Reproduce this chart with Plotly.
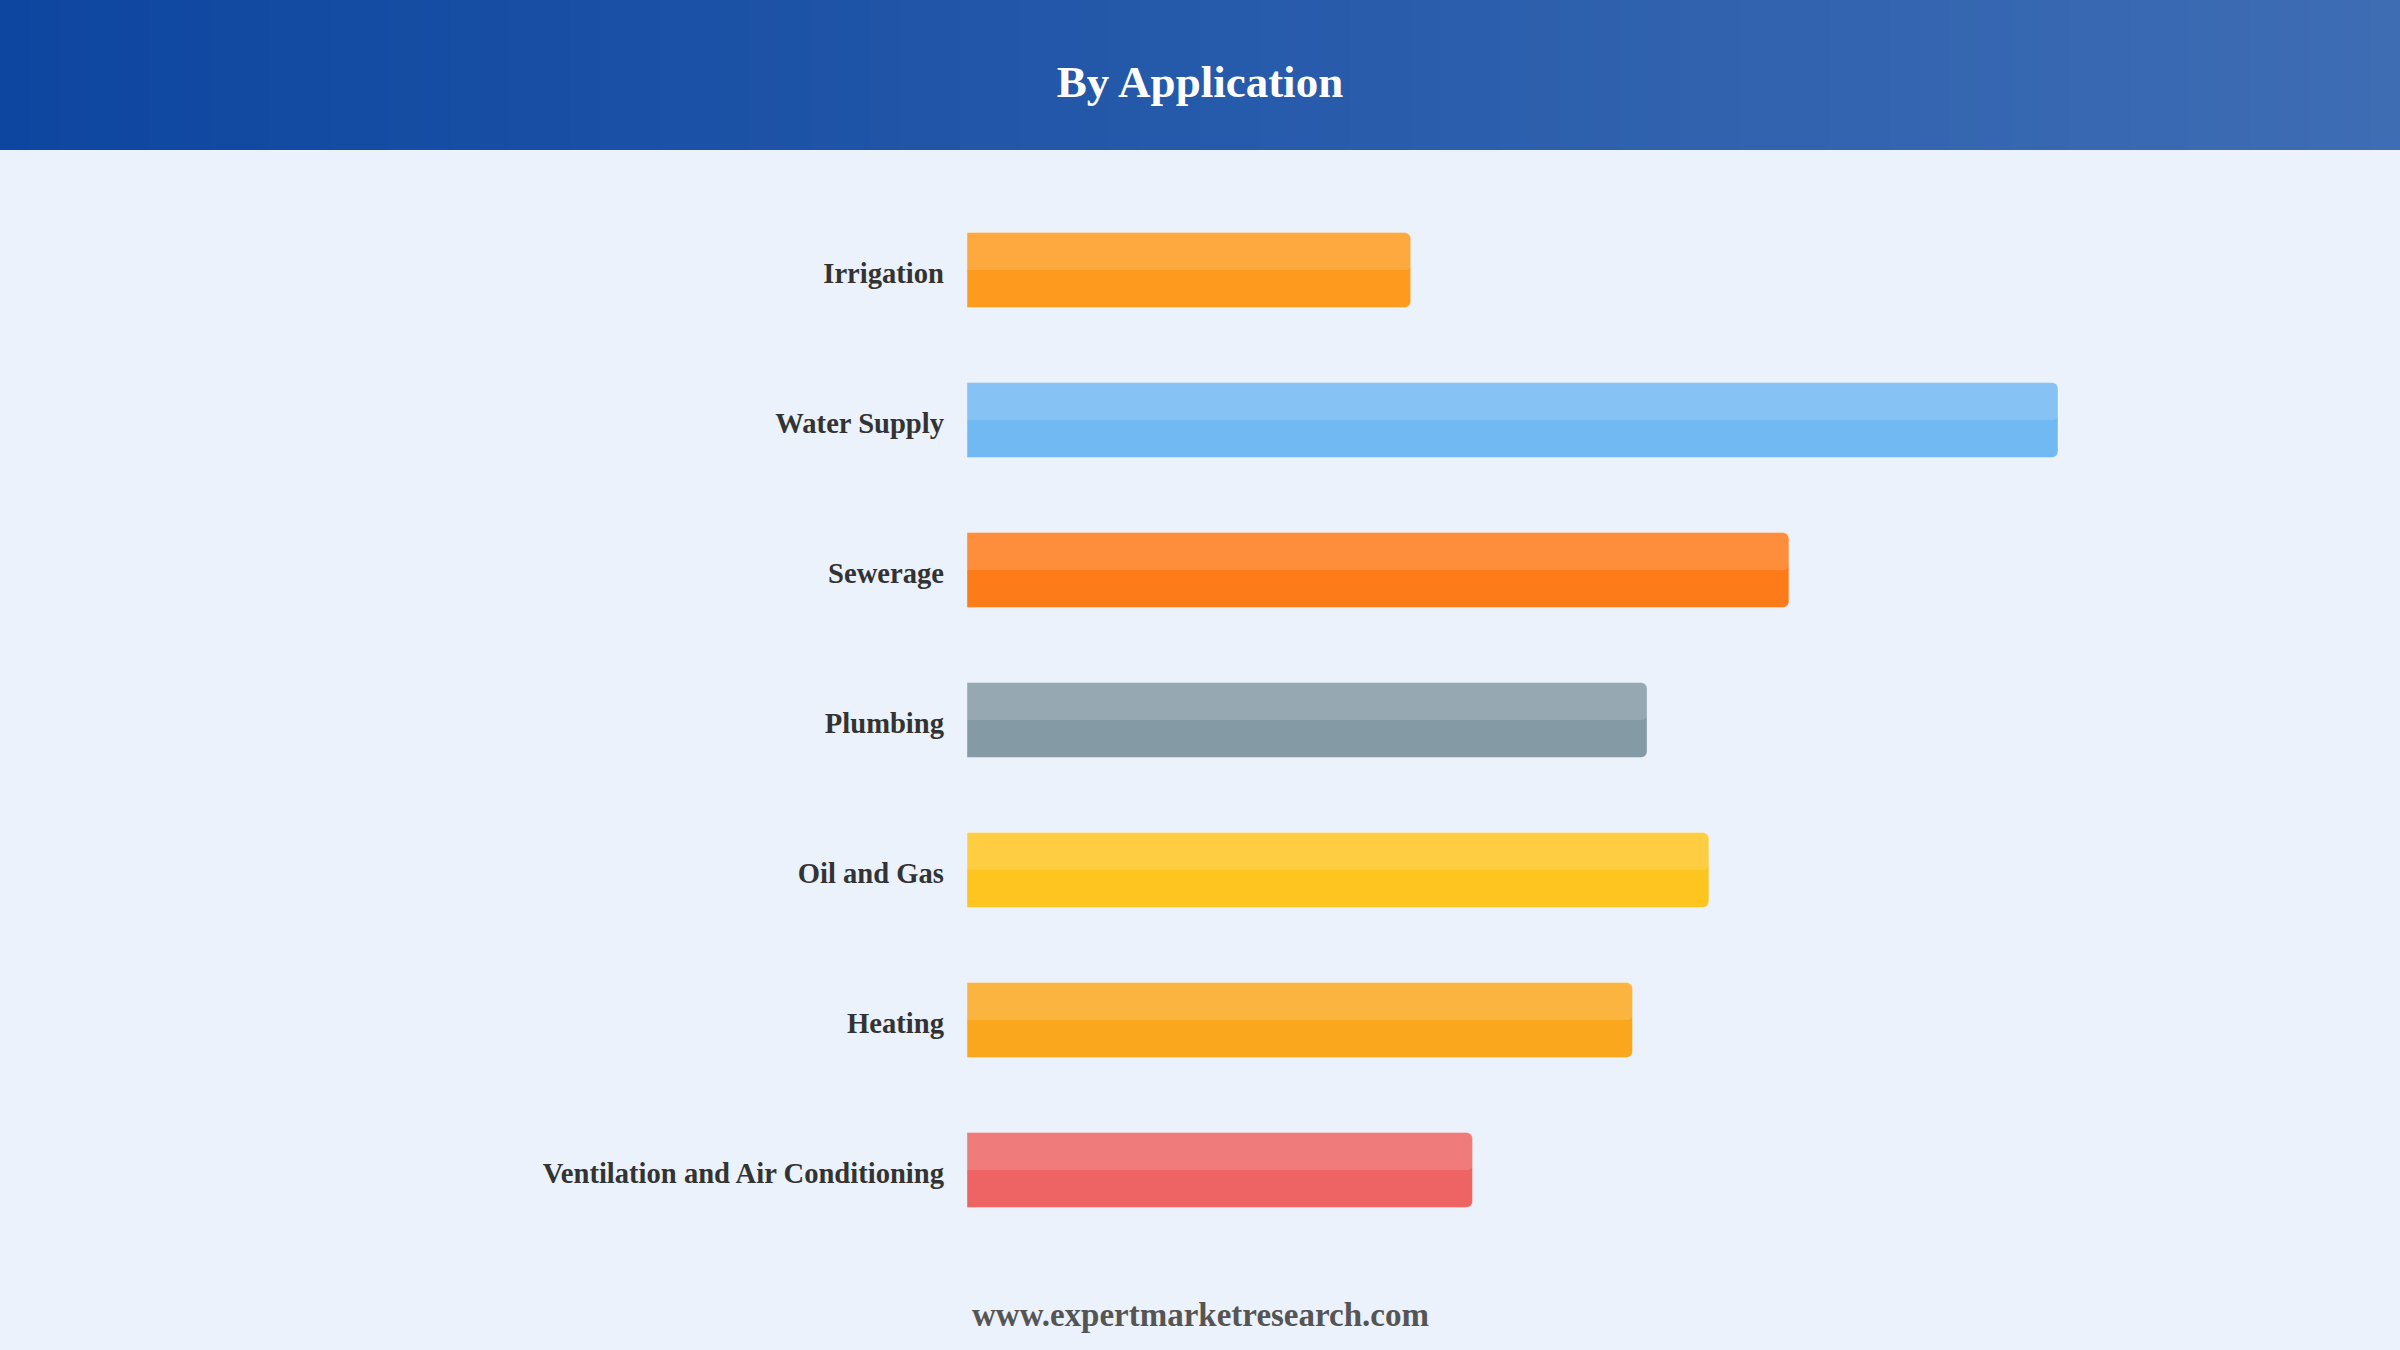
import plotly.graph_objects as go

# ---- data ----
categories = ["Irrigation", "Water Supply", "Sewerage", "Plumbing",
              "Oil and Gas", "Heating", "Ventilation and Air Conditioning"]
values = [12.2, 30.0, 22.6, 18.7, 20.4, 18.3, 13.9]
bar_colors = ["#FE9B1E", "#71B9F3", "#FE7B1A", "#849BA5",
              "#FEC520", "#FAA71E", "#EE6464"]
title_text = "By Application"
footer_text = "www.expertmarketresearch.com"

# ---- layout geometry ----
W, H = 2400, 1350
ML, MR, MT, MB = 967, 200, 195, 105
PW, PH = W - ML - MR, H - MT - MB
XMAX = 30.0 * PW / 1091.0

def px_to_paper_x(px):
    return (px - ML) / PW

def px_to_paper_y(py):
    return (H - MB - py) / PH

FONT = "Liberation Serif, Times New Roman, serif"

fig = go.Figure()
fig.add_trace(go.Bar(
    y=categories, x=values, orientation="h",
    width=0.5,
    marker=dict(color=bar_colors, cornerradius=6,
                line=dict(width=1, color="rgba(255,255,255,0.35)")),
    hoverinfo="x+y", showlegend=False,
))
# glossy highlight on the upper half of each bar
fig.add_trace(go.Bar(
    y=categories, x=values, orientation="h",
    width=0.25, offset=-0.25,
    marker=dict(color="rgba(255,255,255,0.15)", cornerradius=5,
                line=dict(width=0)),
    hoverinfo="skip", showlegend=False,
))

# header gradient stripes
c0 = (13, 70, 160)
c1 = (62, 109, 180)
N = 80
shapes = []
for i in range(N):
    t = (i + 0.5) / N
    col = tuple(round(c0[k] + (c1[k] - c0[k]) * t) for k in range(3))
    shapes.append(dict(
        type="rect", xref="paper", yref="paper", layer="below",
        x0=px_to_paper_x(i * W / N), x1=px_to_paper_x((i + 1) * W / N + 1),
        y0=px_to_paper_y(150), y1=px_to_paper_y(0),
        fillcolor="rgb(%d,%d,%d)" % col, line=dict(width=0),
    ))

fig.update_layout(
    width=W, height=H,
    margin=dict(l=ML, r=MR, t=MT, b=MB, pad=0),
    paper_bgcolor="#EBF2FC", plot_bgcolor="#EBF2FC",
    barmode="overlay",
    shapes=shapes,
    title=dict(text="<b>" + title_text + "</b>", x=0.5, xref="container",
               xanchor="center", y=1 - 81 / H, yref="container", yanchor="middle",
               font=dict(family=FONT, size=45, color="white")),
    xaxis=dict(range=[0, XMAX], visible=False, fixedrange=True),
    yaxis=dict(type="category", range=[6.5, -0.5], showgrid=False,
               zeroline=False, showline=False, ticks="",
               ticklabelstandoff=22, ticklabelshift=-3,
               tickfont=dict(family=FONT, size=28.6, color="#333333", weight="bold"),
               fixedrange=True),
    annotations=[dict(
        text="<b>" + footer_text + "</b>", showarrow=False,
        xref="paper", yref="paper",
        x=px_to_paper_x(1200), y=px_to_paper_y(1315),
        xanchor="center", yanchor="middle",
        font=dict(family=FONT, size=33, color="#555555"),
    )],
)

fig.write_html("out.html")
